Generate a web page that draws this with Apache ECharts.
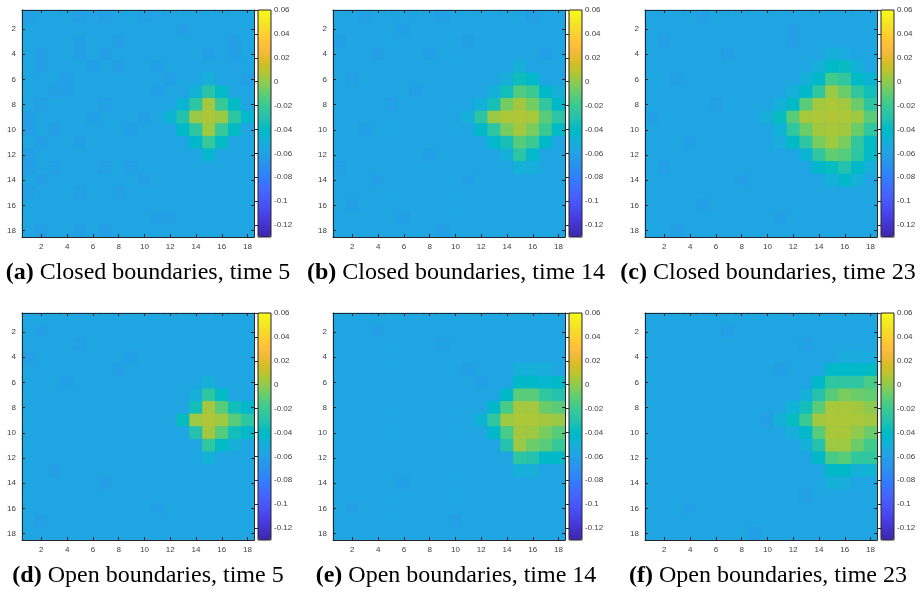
<!DOCTYPE html>
<html>
<head>
<meta charset="utf-8">
<script src="https://cdn.jsdelivr.net/npm/echarts@6.0.0/dist/echarts.min.js"></script>
<style>
html,body{margin:0;padding:0;background:#fff;}
#chart{width:922px;height:603px;}
</style>
</head>
<body>
<div id="chart"></div>
<script>
// ---------- DATA ----------
const cellLabels = ['1','2','3','4','5','6','7','8','9','10','11','12','13','14','15','16','17','18'];
const colorbarTicks = [-0.12, -0.1, -0.08, -0.06, -0.04, -0.02, 0, 0.02, 0.04, 0.06];
const valueMin = -0.13;
const valueMax = 0.06;
const captionTags = ['(a)', '(b)', '(c)', '(d)', '(e)', '(f)'];
const captionTexts = [
  ' Closed boundaries, time 5',
  ' Closed boundaries, time 14',
  ' Closed boundaries, time 23',
  ' Open boundaries, time 5',
  ' Open boundaries, time 14',
  ' Open boundaries, time 23'
];

// (a) Closed boundaries, time 5
const closedT5 = [
[-.061,-.057,-.057,-.057,-.061,-.059,-.061,-.057,-.057,-.061,-.059,-.057,-.057,-.057,-.057,-.057,-.057,-.057],
[-.057,-.057,-.057,-.057,-.057,-.057,-.057,-.057,-.057,-.057,-.057,-.057,-.061,-.057,-.057,-.057,-.057,-.057],
[-.057,-.057,-.057,-.057,-.061,-.057,-.057,-.061,-.057,-.057,-.057,-.057,-.057,-.057,-.057,-.057,-.061,-.057],
[-.057,-.061,-.057,-.057,-.061,-.057,-.061,-.057,-.057,-.057,-.057,-.057,-.057,-.057,-.061,-.057,-.061,-.057],
[-.057,-.061,-.057,-.057,-.057,-.061,-.057,-.061,-.057,-.057,-.061,-.057,-.057,-.057,-.057,-.057,-.059,-.057],
[-.057,-.057,-.057,-.061,-.057,-.057,-.057,-.057,-.057,-.057,-.057,-.061,-.057,-.057,-.050,-.057,-.057,-.061],
[-.057,-.057,-.061,-.061,-.057,-.057,-.057,-.057,-.057,-.057,-.061,-.057,-.057,-.048,-.028,-.041,-.057,-.057],
[-.057,-.061,-.057,-.057,-.057,-.057,-.061,-.057,-.057,-.057,-.057,-.057,-.047,-.026,.004,-.022,-.040,-.057],
[-.061,-.057,-.057,-.057,-.057,-.061,-.057,-.057,-.057,-.061,-.057,-.047,-.030,.002,.006,.002,-.026,-.045],
[-.061,-.057,-.061,-.057,-.057,-.057,-.057,-.057,-.061,-.057,-.057,-.057,-.042,-.026,.003,-.022,-.040,-.057],
[-.057,-.061,-.057,-.057,-.061,-.057,-.057,-.057,-.057,-.057,-.057,-.057,-.057,-.042,-.022,-.040,-.057,-.057],
[-.061,-.057,-.057,-.057,-.057,-.057,-.057,-.057,-.057,-.057,-.057,-.057,-.057,-.057,-.044,-.057,-.057,-.057],
[-.061,-.057,-.061,-.057,-.057,-.057,-.061,-.057,-.061,-.057,-.057,-.057,-.057,-.057,-.057,-.057,-.057,-.057],
[-.057,-.061,-.057,-.057,-.057,-.057,-.057,-.057,-.057,-.061,-.057,-.057,-.057,-.057,-.057,-.057,-.057,-.057],
[-.061,-.057,-.057,-.057,-.061,-.057,-.057,-.061,-.057,-.057,-.057,-.057,-.057,-.057,-.057,-.057,-.057,-.057],
[-.057,-.057,-.057,-.057,-.057,-.057,-.057,-.057,-.057,-.057,-.057,-.057,-.057,-.057,-.057,-.057,-.057,-.057],
[-.057,-.057,-.057,-.057,-.057,-.057,-.057,-.057,-.057,-.057,-.061,-.061,-.057,-.057,-.057,-.057,-.057,-.057],
[-.057,-.061,-.057,-.057,-.061,-.057,-.061,-.057,-.057,-.057,-.057,-.057,-.057,-.057,-.057,-.057,-.057,-.057]
];

// (b) Closed boundaries, time 14
const closedT14 = [
[-.057,-.057,-.061,-.057,-.057,-.057,-.057,-.057,-.061,-.057,-.057,-.057,-.057,-.057,-.057,-.061,-.057,-.057],
[-.057,-.057,-.057,-.057,-.057,-.061,-.057,-.057,-.057,-.057,-.057,-.057,-.057,-.057,-.057,-.057,-.057,-.057],
[-.061,-.057,-.057,-.057,-.057,-.057,-.057,-.057,-.057,-.057,-.061,-.057,-.057,-.057,-.057,-.057,-.057,-.057],
[-.057,-.057,-.057,-.061,-.057,-.057,-.057,-.061,-.057,-.057,-.057,-.057,-.057,-.057,-.057,-.057,-.061,-.057],
[-.057,-.057,-.057,-.057,-.057,-.057,-.057,-.057,-.057,-.057,-.057,-.057,-.057,-.057,-.050,-.057,-.057,-.057],
[-.057,-.061,-.057,-.057,-.057,-.057,-.057,-.057,-.057,-.057,-.057,-.057,-.057,-.050,-.036,-.043,-.057,-.057],
[-.057,-.057,-.057,-.057,-.057,-.057,-.061,-.057,-.057,-.057,-.057,-.057,-.049,-.035,-.014,-.020,-.042,-.050],
[-.057,-.057,-.057,-.057,-.061,-.057,-.057,-.057,-.057,-.057,-.057,-.049,-.034,-.006,.004,-.006,-.024,-.042],
[-.057,-.057,-.057,-.057,-.057,-.057,-.057,-.057,-.057,-.057,-.049,-.027,.002,.006,.007,.005,-.012,-.027],
[-.057,-.057,-.061,-.057,-.057,-.057,-.057,-.057,-.057,-.057,-.057,-.042,-.026,-.005,.004,-.005,-.020,-.041],
[-.057,-.057,-.057,-.057,-.057,-.057,-.057,-.057,-.057,-.057,-.057,-.057,-.043,-.034,-.013,-.020,-.042,-.057],
[-.057,-.057,-.057,-.057,-.057,-.057,-.057,-.061,-.057,-.057,-.057,-.057,-.057,-.050,-.027,-.043,-.057,-.057],
[-.061,-.057,-.057,-.057,-.057,-.057,-.057,-.057,-.057,-.057,-.057,-.057,-.057,-.057,-.049,-.051,-.057,-.057],
[-.057,-.057,-.057,-.061,-.057,-.057,-.057,-.057,-.057,-.057,-.061,-.057,-.057,-.057,-.057,-.057,-.057,-.057],
[-.057,-.057,-.057,-.057,-.057,-.057,-.057,-.057,-.057,-.057,-.057,-.057,-.057,-.057,-.057,-.057,-.057,-.057],
[-.057,-.061,-.057,-.057,-.057,-.057,-.057,-.057,-.057,-.057,-.057,-.057,-.057,-.057,-.057,-.057,-.057,-.057],
[-.057,-.057,-.057,-.057,-.057,-.061,-.057,-.057,-.057,-.057,-.057,-.057,-.057,-.057,-.057,-.057,-.057,-.057],
[-.057,-.057,-.057,-.057,-.057,-.057,-.057,-.057,-.061,-.057,-.057,-.057,-.057,-.057,-.057,-.057,-.057,-.057]
];

// (c) Closed boundaries, time 23
const closedT23 = [
[-.057,-.057,-.057,-.057,-.061,-.057,-.057,-.057,-.057,-.057,-.057,-.057,-.057,-.057,-.057,-.057,-.057,-.057],
[-.057,-.057,-.057,-.057,-.057,-.057,-.057,-.057,-.057,-.057,-.057,-.061,-.057,-.057,-.057,-.057,-.057,-.057],
[-.057,-.061,-.057,-.057,-.057,-.057,-.057,-.057,-.057,-.057,-.057,-.061,-.057,-.057,-.057,-.057,-.057,-.057],
[-.057,-.057,-.057,-.057,-.057,-.057,-.061,-.057,-.057,-.057,-.057,-.057,-.057,-.057,-.051,-.052,-.057,-.057],
[-.057,-.057,-.057,-.057,-.057,-.057,-.057,-.057,-.057,-.057,-.057,-.057,-.057,-.050,-.042,-.038,-.049,-.057],
[-.057,-.057,-.061,-.057,-.057,-.057,-.057,-.057,-.057,-.057,-.057,-.057,-.050,-.042,-.018,-.024,-.041,-.046],
[-.057,-.057,-.057,-.057,-.057,-.057,-.057,-.057,-.057,-.057,-.057,-.050,-.042,-.024,.002,-.008,-.024,-.035],
[-.057,-.057,-.057,-.057,-.057,-.061,-.057,-.057,-.057,-.057,-.049,-.041,-.012,.004,.006,.004,-.008,-.026],
[-.061,-.057,-.057,-.057,-.057,-.057,-.057,-.057,-.057,-.050,-.038,-.012,.005,.006,.007,.006,.003,-.012],
[-.057,-.057,-.057,-.057,-.057,-.057,-.057,-.057,-.057,-.057,-.048,-.025,-.008,.004,.005,.004,-.008,-.025],
[-.057,-.057,-.057,-.061,-.057,-.057,-.057,-.057,-.057,-.057,-.052,-.041,-.026,-.005,.003,-.005,-.024,-.041],
[-.057,-.057,-.057,-.057,-.057,-.057,-.057,-.057,-.057,-.057,-.057,-.057,-.047,-.025,-.010,-.013,-.026,-.041],
[-.057,-.061,-.057,-.057,-.057,-.057,-.057,-.057,-.057,-.057,-.057,-.057,-.057,-.042,-.038,-.030,-.042,-.050],
[-.057,-.057,-.057,-.057,-.057,-.057,-.057,-.061,-.057,-.057,-.057,-.057,-.057,-.057,-.049,-.042,-.050,-.057],
[-.057,-.057,-.057,-.057,-.057,-.057,-.057,-.057,-.057,-.057,-.057,-.057,-.057,-.057,-.057,-.057,-.057,-.057],
[-.057,-.057,-.057,-.057,-.061,-.057,-.057,-.057,-.057,-.057,-.057,-.057,-.057,-.057,-.057,-.057,-.057,-.057],
[-.057,-.057,-.057,-.057,-.057,-.057,-.057,-.057,-.057,-.057,-.061,-.057,-.057,-.057,-.057,-.057,-.057,-.057],
[-.057,-.057,-.061,-.057,-.057,-.057,-.057,-.057,-.057,-.057,-.057,-.057,-.057,-.057,-.057,-.057,-.057,-.057]
];

// (d) Open boundaries, time 5
const openT5 = [
[-.057,-.057,-.057,-.057,-.057,-.057,-.057,-.057,-.057,-.057,-.057,-.057,-.057,-.057,-.057,-.057,-.057,-.057],
[-.057,-.061,-.057,-.057,-.057,-.057,-.057,-.057,-.057,-.057,-.057,-.057,-.057,-.057,-.057,-.057,-.057,-.057],
[-.057,-.057,-.057,-.057,-.061,-.057,-.057,-.057,-.057,-.057,-.057,-.057,-.057,-.057,-.057,-.057,-.057,-.057],
[-.061,-.057,-.057,-.057,-.057,-.057,-.057,-.057,-.061,-.057,-.057,-.057,-.057,-.057,-.057,-.057,-.057,-.057],
[-.057,-.057,-.057,-.057,-.057,-.057,-.057,-.061,-.057,-.057,-.057,-.057,-.057,-.057,-.057,-.057,-.057,-.057],
[-.057,-.057,-.057,-.061,-.057,-.057,-.057,-.057,-.057,-.057,-.057,-.057,-.057,-.057,-.050,-.057,-.057,-.057],
[-.057,-.057,-.057,-.057,-.057,-.057,-.057,-.057,-.057,-.057,-.057,-.057,-.057,-.051,-.025,-.040,-.057,-.057],
[-.057,-.057,-.057,-.057,-.057,-.057,-.057,-.057,-.057,-.057,-.057,-.057,-.057,-.035,.004,-.012,-.035,-.044],
[-.057,-.057,-.057,-.057,-.057,-.057,-.057,-.057,-.057,-.057,-.057,-.057,-.038,.003,.007,.003,-.012,-.026],
[-.057,-.057,-.057,-.057,-.057,-.057,-.057,-.057,-.057,-.057,-.057,-.057,-.057,-.030,.004,-.013,-.035,-.043],
[-.057,-.057,-.057,-.057,-.057,-.057,-.057,-.057,-.057,-.057,-.057,-.057,-.057,-.057,-.025,-.041,-.050,-.057],
[-.057,-.057,-.057,-.057,-.057,-.057,-.057,-.057,-.057,-.057,-.057,-.057,-.057,-.057,-.049,-.057,-.057,-.057],
[-.057,-.057,-.061,-.057,-.057,-.057,-.057,-.057,-.057,-.057,-.057,-.057,-.057,-.057,-.057,-.057,-.057,-.057],
[-.057,-.057,-.057,-.057,-.057,-.057,-.061,-.057,-.057,-.057,-.057,-.057,-.057,-.057,-.057,-.057,-.057,-.057],
[-.057,-.057,-.057,-.057,-.057,-.057,-.057,-.057,-.057,-.057,-.057,-.057,-.057,-.057,-.057,-.057,-.057,-.057],
[-.057,-.057,-.057,-.057,-.057,-.057,-.057,-.057,-.057,-.057,-.061,-.057,-.057,-.057,-.057,-.057,-.057,-.057],
[-.057,-.061,-.057,-.057,-.057,-.057,-.057,-.057,-.057,-.057,-.057,-.057,-.057,-.057,-.057,-.057,-.057,-.057],
[-.057,-.057,-.057,-.057,-.057,-.057,-.057,-.057,-.057,-.057,-.057,-.057,-.057,-.057,-.057,-.057,-.057,-.057]
];

// (e) Open boundaries, time 14
const openT14 = [
[-.057,-.057,-.057,-.057,-.057,-.057,-.057,-.057,-.057,-.057,-.057,-.057,-.057,-.057,-.057,-.057,-.057,-.057],
[-.057,-.057,-.057,-.061,-.057,-.057,-.057,-.057,-.057,-.057,-.057,-.057,-.057,-.057,-.057,-.057,-.057,-.057],
[-.057,-.057,-.057,-.057,-.057,-.057,-.057,-.057,-.061,-.057,-.057,-.057,-.057,-.057,-.057,-.057,-.057,-.057],
[-.057,-.057,-.057,-.057,-.057,-.057,-.057,-.057,-.057,-.057,-.057,-.057,-.057,-.057,-.057,-.057,-.057,-.057],
[-.057,-.057,-.057,-.057,-.057,-.057,-.057,-.057,-.057,-.057,-.061,-.057,-.057,-.057,-.050,-.050,-.051,-.057],
[-.057,-.057,-.057,-.057,-.057,-.057,-.057,-.057,-.057,-.057,-.057,-.061,-.057,-.057,-.042,-.042,-.045,-.042],
[-.057,-.057,-.057,-.057,-.057,-.057,-.057,-.057,-.057,-.057,-.057,-.057,-.057,-.042,-.012,-.012,-.025,-.030],
[-.057,-.057,-.057,-.057,-.057,-.057,-.057,-.057,-.057,-.057,-.057,-.057,-.042,-.016,.004,.004,-.008,-.012],
[-.057,-.057,-.057,-.057,-.057,-.057,-.057,-.057,-.057,-.057,-.057,-.047,-.025,.003,.006,.006,.004,.002],
[-.057,-.057,-.057,-.057,-.057,-.057,-.057,-.057,-.057,-.057,-.057,-.057,-.042,-.016,.004,.003,-.005,-.012],
[-.057,-.057,-.057,-.057,-.057,-.057,-.057,-.057,-.057,-.057,-.057,-.057,-.057,-.030,.002,-.008,-.012,-.022],
[-.057,-.057,-.057,-.057,-.057,-.057,-.057,-.057,-.057,-.057,-.057,-.057,-.057,-.057,-.026,-.030,-.042,-.042],
[-.057,-.057,-.057,-.057,-.057,-.057,-.057,-.057,-.057,-.057,-.057,-.057,-.057,-.057,-.050,-.050,-.057,-.057],
[-.057,-.057,-.057,-.057,-.057,-.061,-.057,-.057,-.057,-.057,-.057,-.057,-.057,-.057,-.057,-.057,-.057,-.057],
[-.057,-.057,-.057,-.057,-.057,-.057,-.057,-.057,-.057,-.057,-.057,-.057,-.057,-.057,-.057,-.057,-.057,-.057],
[-.057,-.061,-.057,-.057,-.057,-.057,-.057,-.057,-.057,-.057,-.057,-.057,-.057,-.057,-.057,-.057,-.057,-.057],
[-.057,-.057,-.057,-.057,-.057,-.057,-.057,-.057,-.057,-.061,-.057,-.057,-.057,-.057,-.057,-.057,-.057,-.057],
[-.057,-.057,-.057,-.057,-.057,-.057,-.057,-.057,-.057,-.057,-.057,-.057,-.057,-.057,-.057,-.057,-.057,-.057]
];

// (f) Open boundaries, time 23
const openT23 = [
[-.057,-.057,-.057,-.057,-.057,-.057,-.057,-.057,-.057,-.057,-.057,-.057,-.057,-.057,-.057,-.057,-.057,-.057],
[-.057,-.057,-.057,-.057,-.057,-.057,-.061,-.057,-.057,-.057,-.057,-.057,-.057,-.057,-.057,-.057,-.057,-.057],
[-.057,-.057,-.057,-.057,-.057,-.057,-.057,-.057,-.057,-.057,-.057,-.057,-.061,-.057,-.057,-.057,-.057,-.057],
[-.057,-.057,-.057,-.057,-.057,-.057,-.057,-.057,-.057,-.057,-.057,-.057,-.057,-.057,-.057,-.052,-.052,-.052],
[-.057,-.057,-.057,-.057,-.057,-.057,-.057,-.057,-.057,-.057,-.061,-.057,-.057,-.057,-.042,-.042,-.042,-.040],
[-.057,-.057,-.057,-.057,-.057,-.057,-.057,-.057,-.057,-.057,-.057,-.057,-.057,-.042,-.025,-.025,-.025,-.016],
[-.057,-.057,-.057,-.057,-.057,-.057,-.057,-.057,-.057,-.057,-.057,-.057,-.050,-.030,-.012,-.005,-.008,-.010],
[-.057,-.057,-.057,-.057,-.057,-.057,-.057,-.057,-.057,-.057,-.057,-.048,-.035,-.012,.005,.005,.004,-.001],
[-.057,-.057,-.057,-.057,-.057,-.057,-.057,-.057,-.057,-.061,-.050,-.038,-.020,.004,.006,.006,.005,.004],
[-.057,-.057,-.057,-.057,-.057,-.057,-.057,-.057,-.057,-.057,-.057,-.050,-.042,-.012,.005,.005,.000,-.008],
[-.057,-.057,-.057,-.057,-.057,-.057,-.057,-.057,-.057,-.057,-.057,-.057,-.050,-.030,.003,.003,-.008,-.018],
[-.057,-.057,-.057,-.057,-.057,-.057,-.057,-.057,-.057,-.057,-.057,-.057,-.057,-.042,-.016,-.012,-.025,-.024],
[-.057,-.057,-.057,-.057,-.057,-.057,-.057,-.057,-.057,-.057,-.057,-.057,-.057,-.057,-.042,-.042,-.049,-.048],
[-.057,-.057,-.057,-.057,-.057,-.057,-.057,-.057,-.057,-.057,-.057,-.057,-.057,-.057,-.050,-.051,-.057,-.057],
[-.057,-.057,-.057,-.057,-.057,-.057,-.057,-.057,-.057,-.057,-.057,-.057,-.061,-.057,-.057,-.057,-.057,-.057],
[-.057,-.057,-.057,-.061,-.057,-.057,-.057,-.057,-.057,-.057,-.057,-.057,-.057,-.057,-.057,-.057,-.057,-.057],
[-.057,-.057,-.057,-.057,-.057,-.057,-.057,-.057,-.057,-.057,-.057,-.057,-.057,-.057,-.057,-.057,-.057,-.057],
[-.057,-.057,-.057,-.057,-.057,-.057,-.057,-.057,-.061,-.057,-.057,-.057,-.057,-.057,-.057,-.057,-.057,-.057]
];

const panels = [closedT5, closedT14, closedT23, openT5, openT14, openT23];

// ---------- STYLE ----------
const parulaRGB = [
[0.2422,0.1504,0.6603],[0.2504,0.1650,0.7076],[0.2578,0.1818,0.7511],[0.2647,0.1978,0.7952],
[0.2706,0.2147,0.8364],[0.2751,0.2342,0.8710],[0.2783,0.2559,0.8991],[0.2803,0.2782,0.9221],
[0.2813,0.3006,0.9414],[0.2810,0.3228,0.9579],[0.2795,0.3447,0.9717],[0.2760,0.3667,0.9829],
[0.2699,0.3892,0.9906],[0.2602,0.4123,0.9952],[0.2440,0.4358,0.9988],[0.2206,0.4603,0.9973],
[0.1963,0.4847,0.9892],[0.1834,0.5074,0.9798],[0.1786,0.5289,0.9682],[0.1764,0.5499,0.9520],
[0.1687,0.5703,0.9359],[0.1540,0.5902,0.9218],[0.1460,0.6091,0.9079],[0.1380,0.6276,0.8973],
[0.1248,0.6459,0.8883],[0.1113,0.6635,0.8763],[0.0952,0.6798,0.8598],[0.0689,0.6948,0.8394],
[0.0297,0.7082,0.8163],[0.0036,0.7203,0.7917],[0.0067,0.7312,0.7660],[0.0433,0.7411,0.7394],
[0.0964,0.7500,0.7120],[0.1408,0.7584,0.6842],[0.1717,0.7670,0.6554],[0.1938,0.7758,0.6251],
[0.2161,0.7843,0.5923],[0.2470,0.7918,0.5567],[0.2906,0.7973,0.5188],[0.3406,0.8008,0.4789],
[0.3909,0.8029,0.4354],[0.4456,0.8024,0.3909],[0.5044,0.7993,0.3480],[0.5616,0.7942,0.3045],
[0.6174,0.7876,0.2612],[0.6720,0.7793,0.2227],[0.7242,0.7698,0.1910],[0.7738,0.7598,0.1646],
[0.8203,0.7498,0.1535],[0.8634,0.7406,0.1596],[0.9035,0.7330,0.1774],[0.9393,0.7288,0.2100],
[0.9728,0.7298,0.2394],[0.9956,0.7434,0.2371],[0.9970,0.7659,0.2199],[0.9952,0.7893,0.2028],
[0.9892,0.8136,0.1885],[0.9786,0.8386,0.1766],[0.9676,0.8639,0.1643],[0.9610,0.8890,0.1537],
[0.9597,0.9135,0.1423],[0.9628,0.9373,0.1265],[0.9691,0.9606,0.1064],[0.9769,0.9839,0.0805]
];
const parula = parulaRGB.map(c => 'rgb(' + c.map(v => Math.round(v * 255)).join(',') + ')');

const axisColor = '#262626';
const labelColor = '#404040';
const labelFont = 'Liberation Sans';
const plotBackground = '#1fa6e2';
const plotLefts = [22, 333, 645];
const barLefts = [258, 569, 881];
const plotTops = [10, 313];
const captionCenters = [148, 456, 768];
const captionYs = [273, 576];
const plotW = 232, plotH = 227, barW = 13;

const evenOnly = (idx) => idx % 2 === 1;

const grid = [], xAxis = [], yAxis = [], series = [], visualMap = [], graphic = [];

panels.forEach((vals, p) => {
  const col = p % 3, row = Math.floor(p / 3);
  const left = plotLefts[col], top = plotTops[row];

  // heatmap grid
  const gHeat = grid.length;
  grid.push({ left: left, top: top, width: plotW, height: plotH, containLabel: false,
    show: true, backgroundColor: plotBackground, borderWidth: 0 });
  const tickCommon = { show: true, inside: true, length: 3, alignWithLabel: true, interval: evenOnly, lineStyle: { color: axisColor, width: 1 } };
  const lineCommon = { show: true, onZero: false, lineStyle: { color: axisColor, width: 1 } };
  const xb = xAxis.length;
  xAxis.push({ gridIndex: gHeat, type: 'category', data: cellLabels, position: 'bottom', z: 5,
    axisLine: lineCommon, axisTick: tickCommon, splitLine: { show: false },
    axisLabel: { interval: evenOnly, fontSize: 8, color: labelColor, fontFamily: labelFont, margin: 6 } });
  xAxis.push({ gridIndex: gHeat, type: 'category', data: cellLabels, position: 'top', z: 5,
    axisLine: lineCommon, axisTick: tickCommon, splitLine: { show: false }, axisLabel: { show: false } });
  const yl = yAxis.length;
  yAxis.push({ gridIndex: gHeat, type: 'category', data: cellLabels, inverse: true, position: 'left', z: 5,
    axisLine: lineCommon, axisTick: tickCommon, splitLine: { show: false },
    axisLabel: { interval: evenOnly, fontSize: 8, color: labelColor, fontFamily: labelFont, margin: 6 } });
  yAxis.push({ gridIndex: gHeat, type: 'category', data: cellLabels, inverse: true, position: 'right', z: 5,
    axisLine: lineCommon, axisTick: tickCommon, splitLine: { show: false }, axisLabel: { show: false } });

  const data = [];
  vals.forEach((rowVals, r) => rowVals.forEach((v, c) => data.push([c, r, v])));
  const sIdx = series.length;
  series.push({ type: 'heatmap', xAxisIndex: xb, yAxisIndex: yl, data: data, progressive: 0,
    itemStyle: { borderWidth: 0 }, emphasis: { disabled: true } });

  // colorbar
  visualMap.push({ type: 'continuous', seriesIndex: sIdx, min: valueMin, max: valueMax,
    calculable: false, hoverLink: false, realtime: false, left: barLefts[col], top: top,
    itemWidth: barW, itemHeight: plotH, padding: 0, text: null, z: 2,
    inRange: { color: parula } });
  const gBar = grid.length;
  grid.push({ left: barLefts[col], top: top, width: barW, height: plotH, show: true,
    borderColor: axisColor, borderWidth: 1, backgroundColor: 'transparent', z: 5 });
  xAxis.push({ gridIndex: gBar, type: 'value', min: 0, max: 1, show: false });
  yAxis.push({ gridIndex: gBar, type: 'value', min: valueMin, max: valueMax, position: 'right', z: 6,
    axisLine: { show: false }, splitLine: { show: false },
    axisTick: { show: true, inside: true, length: 3, customValues: colorbarTicks, lineStyle: { color: axisColor } },
    axisLabel: { customValues: colorbarTicks, fontSize: 8, color: labelColor, fontFamily: labelFont, margin: 3,
      formatter: (v) => String(+(+v).toFixed(2)) } });

  graphic.push({ type: 'text', x: captionCenters[col], y: captionYs[row], silent: true,
    style: { text: '{b|' + captionTags[p] + '}' + captionTexts[p], align: 'center', verticalAlign: 'middle',
      fontFamily: 'Liberation Serif', fontSize: 24, fill: '#000',
      rich: { b: { fontFamily: 'Liberation Serif', fontSize: 24, fontWeight: 'bold', fill: '#000' } } } });
});

const chart = echarts.init(document.getElementById('chart'), null, { renderer: 'canvas' });
chart.setOption({
  animation: false,
  backgroundColor: '#ffffff',
  grid, xAxis, yAxis, series, visualMap, graphic
});
</script>
</body>
</html>
